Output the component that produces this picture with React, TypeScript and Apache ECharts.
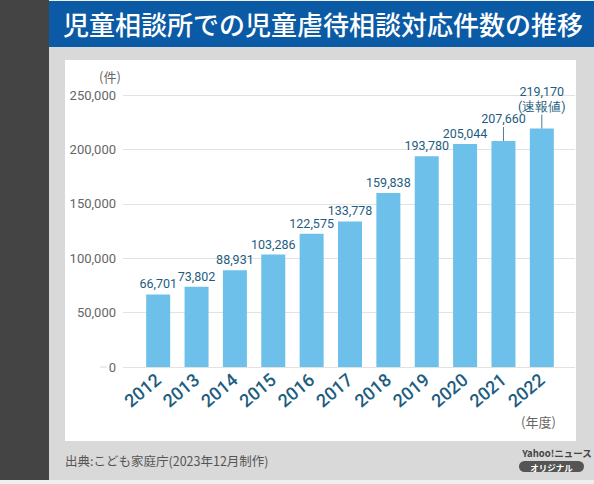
import React, { useEffect, useRef } from "react";
import * as echarts from "echarts";

const title = "児童相談所での児童虐待相談対応件数の推移";
const years = ["2012", "2013", "2014", "2015", "2016", "2017", "2018", "2019", "2020", "2021", "2022"];
const cases = [66701, 73802, 88931, 103286, 122575, 133778, 159838, 193780, 205044, 207660, 219170];
const notes = ["", "", "", "", "", "", "", "", "", "", "(速報値)"];
const leaderYears = ["2021", "2022"];
const yTicks = [0, 50000, 100000, 150000, 200000, 250000];
const yUnit = "(件)";
const xUnit = "(年度)";
const source = "出典:こども家庭庁(2023年12月制作)";

const FONT = "'Noto Sans CJK JP', 'Noto Sans', sans-serif";
const NUMFONT = "Roboto, 'Noto Sans', sans-serif";
const LABEL_COLOR = "#1d5d80";

export default function App() {
  const ref = useRef<HTMLDivElement>(null);
  useEffect(() => {
    if (!ref.current) return;
    const chart = echarts.init(ref.current, undefined, { renderer: "svg" });
    const yMax = yTicks[yTicks.length - 1];
    const interval = yTicks[1] - yTicks[0];
    const fmt = (v: number) => v.toLocaleString("en-US");
    const barData = cases.map((v, i) => {
      const lead = leaderYears.includes(years[i]);
      return {
        value: v,
        label: { distance: lead ? 15 : 3 },
      };
    });
    const leaderData = years.map((y, i) => (leaderYears.includes(y) ? cases[i] : "-"));
    chart.setOption({
      animation: false,
      backgroundColor: "transparent",
      grid: [
        { left: 123, right: 19, top: 95, bottom: 117 },
        { left: 139, right: 33, top: 95, bottom: 117 },
      ],
      xAxis: [
        { type: "category", gridIndex: 0, data: years, show: false },
        {
          type: "category",
          gridIndex: 1,
          data: years,
          axisLine: { show: false },
          axisTick: { show: false },
          axisLabel: {
            rotate: 40,
            margin: 10,
            fontSize: 18,
            fontFamily: NUMFONT,
            fontWeight: 500,
            color: LABEL_COLOR,
          },
        },
      ],
      yAxis: [
        {
          type: "value",
          gridIndex: 0,
          min: 0,
          max: yMax,
          interval,
          axisLine: { show: false },
          axisTick: { show: false },
          splitLine: { lineStyle: { color: "#e2e2e2", width: 1.2 } },
          axisLabel: {
            margin: 7,
            fontSize: 13,
            fontFamily: NUMFONT,
            color: "#666",
            formatter: (v: number) => fmt(v),
          },
        },
        {
          type: "value",
          gridIndex: 1,
          min: 0,
          max: yMax,
          interval,
          show: false,
        },
      ],
      series: [
        {
          type: "bar",
          xAxisIndex: 1,
          yAxisIndex: 1,
          barWidth: 24,
          data: barData,
          itemStyle: { color: "#6cc0e9" },
          label: {
            show: true,
            position: "top",
            fontSize: 12.5,
            fontFamily: NUMFONT,
            color: LABEL_COLOR,
            lineHeight: 15,
            formatter: (p: any) => {
              const n = notes[p.dataIndex];
              return n ? fmt(p.value) + "\n" + n : fmt(p.value);
            },
          },
          z: 3,
        },
        {
          type: "scatter",
          xAxisIndex: 1,
          yAxisIndex: 1,
          data: leaderData,
          symbol: "rect",
          symbolSize: [1, 14],
          symbolOffset: [0, "-50%"],
          itemStyle: { color: LABEL_COLOR },
          silent: true,
          z: 4,
        },
      ],
      graphic: [
        {
          type: "text",
          left: 63,
          top: 10,
          style: { text: title, fill: "#fff", font: `500 26px ${FONT}` },
        },
        {
          type: "text",
          left: 99,
          top: 70,
          style: { text: yUnit, fill: "#666", font: `13px ${FONT}` },
        },
        {
          type: "line",
          shape: { x1: 100, y1: 367, x2: 107, y2: 367 },
          style: { stroke: "#d8d8d8", lineWidth: 1 },
        },
        {
          type: "text",
          left: 521,
          top: 415,
          style: { text: xUnit, fill: "#666", font: `13px ${FONT}` },
        },
        {
          type: "text",
          left: 65,
          top: 454,
          style: { text: source, fill: "#555", font: `12.5px ${FONT}` },
        },
        {
          type: "text",
          x: 557,
          y: 453,
          style: {
            text: "Yahoo!ニュース",
            fill: "#444",
            font: `bold 9.5px ${FONT}`,
            textAlign: "center",
            textVerticalAlign: "middle",
          },
        },
        {
          type: "rect",
          shape: { x: 519, y: 461, width: 65, height: 11, r: 5.5 },
          style: { fill: "#555" },
        },
        {
          type: "text",
          x: 551.5,
          y: 466.5,
          style: {
            text: "オリジナル",
            fill: "#fff",
            font: `bold 8.5px ${FONT}`,
            textAlign: "center",
            textVerticalAlign: "middle",
          },
        },
      ],
    });
    return () => chart.dispose();
  }, []);

  return (
    <div style={{ position: "fixed", left: 0, top: 0, width: 594, height: 484, background: "#efefef" }}>
      <div style={{ position: "absolute", left: 0, top: 0, width: 49, height: 480, background: "#444" }} />
      <div style={{ position: "absolute", left: 49, top: 47, width: 545, height: 433, background: "#d9d9d9" }} />
      <div style={{ position: "absolute", left: 49, top: 1, width: 545, height: 46, background: "#0b5aa5" }} />
      <div style={{ position: "absolute", left: 65, top: 60, width: 511, height: 381, background: "#fff" }} />
      <div ref={ref} style={{ position: "absolute", left: 0, top: 0, width: 594, height: 484 }} />
    </div>
  );
}
